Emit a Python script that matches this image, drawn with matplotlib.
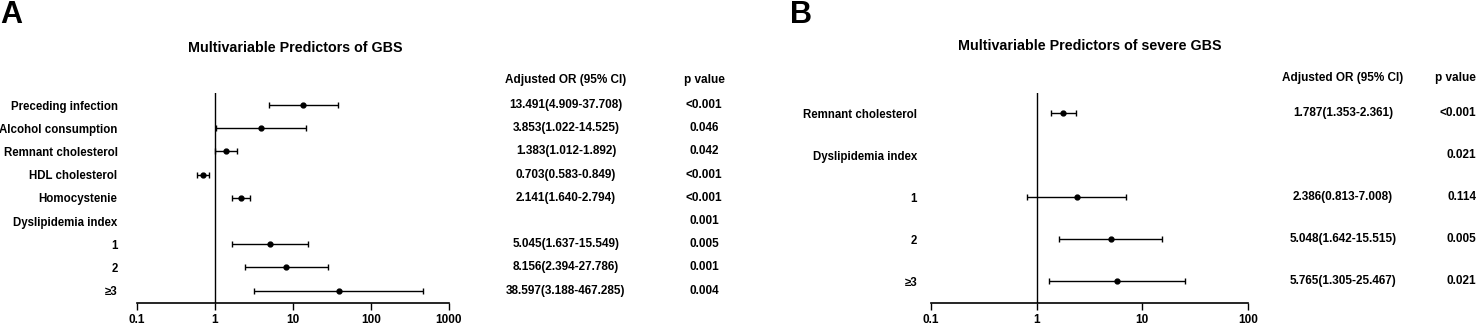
import matplotlib.pyplot as plt
import matplotlib.transforms as mtransforms
import numpy as np

plt.rcParams['font.family'] = ['Liberation Sans', 'DejaVu Sans']
plt.rcParams['font.weight'] = 'bold'

# Panel A data
labels_a = ["Preceding infection", "Alcohol consumption", "Remnant cholesterol",
            "HDL cholesterol", "Homocystenie", "Dyslipidemia index", "1", "2", "≥3"]
or_a = [13.491, 3.853, 1.383, 0.703, 2.141, np.nan, 5.045, 8.156, 38.597]
lo_a = [4.909, 1.022, 1.012, 0.583, 1.640, np.nan, 1.637, 2.394, 3.188]
hi_a = [37.708, 14.525, 1.892, 0.849, 2.794, np.nan, 15.549, 27.786, 467.285]
ci_text_a = ["13.491(4.909-37.708)", "3.853(1.022-14.525)", "1.383(1.012-1.892)",
             "0.703(0.583-0.849)", "2.141(1.640-2.794)", "", "5.045(1.637-15.549)",
             "8.156(2.394-27.786)", "38.597(3.188-467.285)"]
p_a = ["<0.001", "0.046", "0.042", "<0.001", "<0.001", "0.001", "0.005", "0.001", "0.004"]
ticks_a = [0.1, 1, 10, 100, 1000]

# Panel B data
labels_b = ["Remnant cholesterol", "Dyslipidemia index", "1", "2", "≥3"]
or_b = [1.787, np.nan, 2.386, 5.048, 5.765]
lo_b = [1.353, np.nan, 0.813, 1.642, 1.305]
hi_b = [2.361, np.nan, 7.008, 15.515, 25.467]
ci_text_b = ["1.787(1.353-2.361)", "", "2.386(0.813-7.008)", "5.048(1.642-15.515)",
             "5.765(1.305-25.467)"]
p_b = ["<0.001", "0.021", "0.114", "0.005", "0.021"]
ticks_b = [0.1, 1, 10, 100]

W, H = 1477, 325
FS = 8.3
fig = plt.figure(figsize=(W / 100, H / 100), dpi=100)


def px_axes(x0, x1, ytop, ybot):
    return fig.add_axes([x0 / W, 1 - ybot / H, (x1 - x0) / W, (ybot - ytop) / H])


def forest(ax, labels, ors, los, his, ticks, ylim, pad):
    y = np.arange(len(labels))
    o = np.array(ors)
    err = np.array([o - np.array(los), np.array(his) - o])
    ax.errorbar(o, y, xerr=err, fmt='o', color='black', ms=3.5, elinewidth=1,
                capsize=2, capthick=1)
    ax.axvline(1, color='black', lw=1)
    ax.set_xscale('log')
    ax.set_xlim(ticks[0], ticks[-1])
    ax.set_ylim(*ylim)
    ax.set_xticks(ticks)
    ax.set_xticklabels([f"{t:g}" for t in ticks], fontsize=8.5, fontweight='bold')
    ax.minorticks_off()
    ax.set_yticks(y)
    ax.set_yticklabels(labels, fontsize=FS, fontweight='bold')
    ax.tick_params(axis='y', length=0, pad=pad)
    ax.tick_params(axis='x', length=5, width=1, direction='out', pad=3)
    for s in ['top', 'right', 'left']:
        ax.spines[s].set_visible(False)
    ax.spines['bottom'].set_linewidth(1.2)
    ax.patch.set_alpha(0)


# Panel A
ax_a = px_axes(137, 449, 93, 303)
forest(ax_a, labels_a, or_a, lo_a, hi_a, ticks_a, (8.53, -0.52), 14)
tr = mtransforms.blended_transform_factory(fig.transFigure, ax_a.transData)
for i, (c, p) in enumerate(zip(ci_text_a, p_a)):
    ax_a.text(566 / W, i, c, transform=tr, ha='center', va='center', fontsize=8.5, fontweight='bold')
    ax_a.text(704 / W, i, p, transform=tr, ha='center', va='center', fontsize=8.5, fontweight='bold')
fig.text(566 / W, 1 - 80 / H, "Adjusted OR (95% CI)", ha='center', va='center', fontsize=8.5, fontweight='bold')
fig.text(704 / W, 1 - 80 / H, "p value", ha='center', va='center', fontsize=8.5, fontweight='bold')
fig.text(295 / W, 1 - 48 / H, "Multivariable Predictors of GBS", ha='center', va='center', fontsize=10.3, fontweight='bold')
fig.text(0 / W, 1 - 15 / H, "A", ha='left', va='center', fontsize=22, fontweight='bold')

# Panel B
ax_b = px_axes(931, 1248, 93, 303)
forest(ax_b, labels_b, or_b, lo_b, hi_b, ticks_b, (4.52, -0.476), 10)
tr = mtransforms.blended_transform_factory(fig.transFigure, ax_b.transData)
for i, (c, p) in enumerate(zip(ci_text_b, p_b)):
    ax_b.text(1343 / W, i, c, transform=tr, ha='center', va='center', fontsize=8.5, fontweight='bold')
    ax_b.text(1476 / W, i, p, transform=tr, ha='right', va='center', fontsize=8.5, fontweight='bold')
fig.text(1343 / W, 1 - 78 / H, "Adjusted OR (95% CI)", ha='center', va='center', fontsize=8.5, fontweight='bold')
fig.text(1476 / W, 1 - 78 / H, "p value", ha='right', va='center', fontsize=8.5, fontweight='bold')
fig.text(1090 / W, 1 - 46 / H, "Multivariable Predictors of severe GBS", ha='center', va='center', fontsize=10.3, fontweight='bold')
fig.text(790 / W, 1 - 15 / H, "B", ha='left', va='center', fontsize=22, fontweight='bold')

fig.savefig("out.png", dpi=100)
